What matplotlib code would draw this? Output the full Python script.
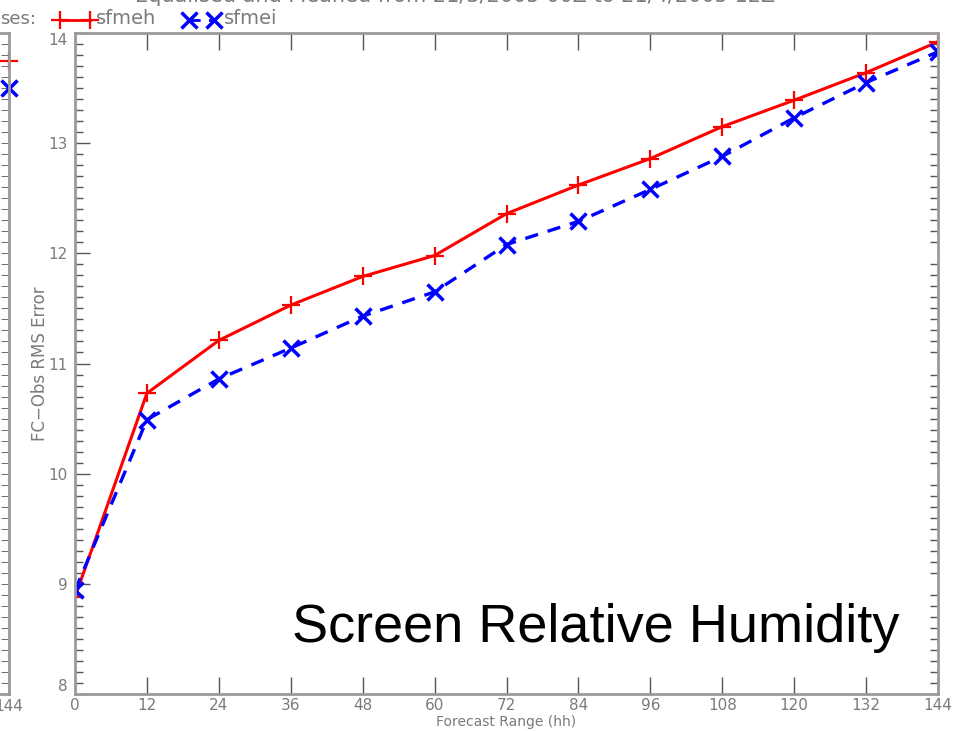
import numpy as np
from matplotlib import pyplot as plt
from matplotlib.lines import Line2D
from matplotlib.ticker import MultipleLocator

# forecast range (hh) and RMS errors
hours = [0, 12, 24, 36, 48, 60, 72, 84, 96, 108, 120, 132, 144]
sfmeh = [8.88, 10.73, 11.21, 11.53, 11.79, 11.98, 12.36, 12.62, 12.86, 13.15, 13.39, 13.64, 13.92]
sfmei = [8.94, 10.49, 10.86, 11.14, 11.43, 11.65, 12.08, 12.29, 12.58, 12.88, 13.23, 13.55, 13.83]
series_names = ['sfmeh', 'sfmei']
xticks = list(range(0, 145, 12))
yticks = [8, 9, 10, 11, 12, 13, 14]

grey = '#7a7a7a'
W, H = 955, 731
fig = plt.figure(figsize=(W / 100, H / 100), dpi=100)

# main panel
ax = fig.add_axes([75 / W, (H - 694) / H, (938 - 75) / W, (694 - 33) / H])
ax.plot(hours, sfmeh, color='red', lw=2.2, marker='+', ms=13, mew=1.6)
ax.plot(hours, sfmei, color='blue', lw=2.4, ls=(0, (4, 3)), marker='x', ms=11, mew=2.5)
ax.set_xlim(0, 144)
ax.set_ylim(8, 14)
ax.set_xticks(xticks)
ax.set_yticks(yticks)
ax.yaxis.set_minor_locator(MultipleLocator(0.1))
ax.tick_params(which='both', direction='in', colors='#555555', labelcolor=grey,
               labelsize=11, top=True, right=True)
ax.tick_params(axis='x', which='major', length=12, width=1, pad=3)
ax.tick_params(axis='y', which='major', length=11, width=1, pad=5)
ax.tick_params(axis='y', which='minor', length=6, width=1)
ax.tick_params(axis='y', which='both', right=True, labelright=False)
ax.tick_params(axis='y', which='major', right=False)
for side in ['left', 'bottom', 'top', 'right']:
    ax.spines[side].set_color('#9a9a9a')
    ax.spines[side].set_linewidth(2)
ax.set_xlabel('Forecast Range (hh)', color=grey, fontsize=10, labelpad=1)
ax.set_ylabel('FC\u2212Obs RMS Error', color=grey, fontsize=12, labelpad=0)

# IDL style end labels sit inside the axis range
fig.canvas.draw()
labels = ax.get_yticklabels()
labels[0].set_va('bottom')
labels[-1].set_va('top')

ax.text(0.955, 0.1, 'Screen Relative Humidity', transform=ax.transAxes,
        ha='right', va='center', fontsize=39, family='Liberation Sans', color='black')

# cut-off title and legend at the top
fig.text(135 / W, 1 + 4 / H, 'Equalised and Meaned from 21/3/2005 00Z to 21/4/2005 12Z',
         color=grey, fontsize=15, ha='left', va='center')
fig.text(0, 1 - 19 / H, 'ses:', color=grey, fontsize=13, ha='left', va='center')
fig.add_artist(Line2D([60 / W, 90 / W], [1 - 20 / H] * 2, color='red', lw=2,
                      marker='+', ms=13, mew=1.6))
fig.text(96 / W, 1 - 19 / H, series_names[0], color=grey, fontsize=14, ha='left', va='center')
fig.add_artist(Line2D([189 / W, 214 / W], [1 - 20 / H] * 2, color='blue', lw=2,
                      ls=(0, (4, 3)), marker='x', ms=11, mew=2.5))
fig.text(224 / W, 1 - 19 / H, series_names[1], color=grey, fontsize=14, ha='left', va='center')

# edge of neighbouring panel on the left
axl = fig.add_axes([-400 / W, (H - 694) / H, 409 / W, (694 - 33) / H])
axl.set_xlim(0, 144)
axl.set_ylim(8, 14)
axl.plot([144], [13.75], color='red', marker='+', ms=13, mew=1.6, clip_on=False)
axl.plot([144], [13.5], color='blue', marker='x', ms=11, mew=2.5, clip_on=False)
axl.set_xticks([144])
axl.set_yticks([])
axl.yaxis.set_minor_locator(MultipleLocator(0.1))
axl.tick_params(axis='y', which='minor', right=True, left=False, direction='in', length=6,
                colors='#555555')
axl.tick_params(axis='x', direction='in', length=12, colors='#555555', labelcolor=grey,
                labelsize=11)
for side in ['left', 'bottom', 'top', 'right']:
    axl.spines[side].set_color('#9a9a9a')
    axl.spines[side].set_linewidth(2)

fig.savefig('out.png', dpi=100)
